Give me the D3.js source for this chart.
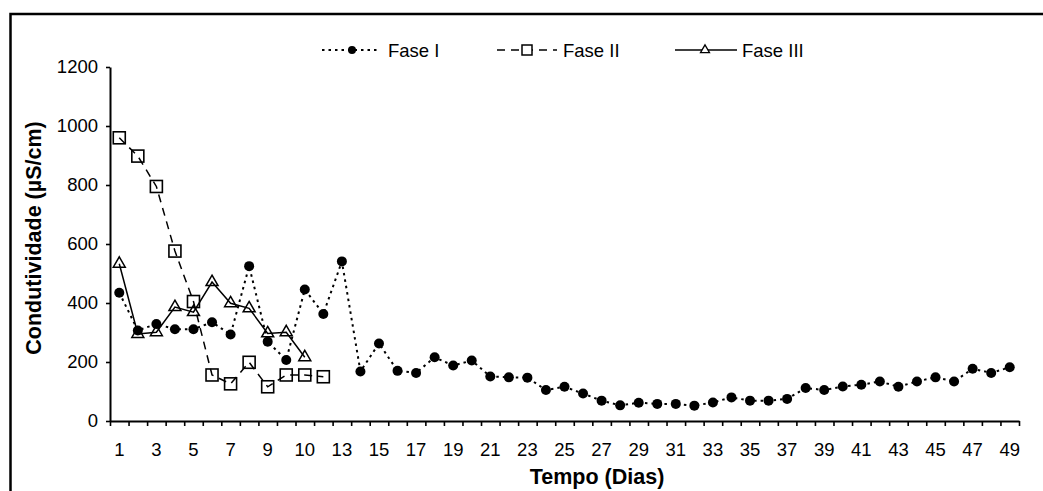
<!DOCTYPE html>
<html>
<head>
<meta charset="utf-8">
<script src="https://cdn.jsdelivr.net/npm/d3@7"></script>
<style>
  html, body { margin: 0; padding: 0; background: #fff; }
  svg { display: block; font-family: "Liberation Sans", Arial, sans-serif; }
</style>
</head>
<body>
<svg id="chart" width="1043" height="491"></svg>
<script>
// Day labels of the category axis (one per sampling point)
const dayLabels = ["1","2","3","4","5","6","7","8","9","10","10","12","13","14","15","16","17","18","19","20",
  "21","22","23","24","25","26","27","28","29","30","31","32","33","34","35","36","37","38","39","40",
  "41","42","43","44","45","46","47","48","49"];

// Conductivity (µS/cm) per phase
const faseI = [435, 307, 329, 311, 311, 335, 293, 525, 269, 207, 446, 363, 541, 168, 263, 170, 163, 216, 188, 205,
  151, 148, 147, 105, 116, 93, 69, 53, 62, 58, 58, 52, 63, 80, 69, 69, 75, 112, 105, 117,
  123, 134, 116, 134, 148, 134, 177, 163, 182];
const faseII = [960, 898, 795, 576, 405, 156, 126, 199, 116, 156, 156, 150];
const faseIII = [533, 295, 301, 386, 369, 471, 399, 382, 297, 301, 216];

const yTicks = [0, 200, 400, 600, 800, 1000, 1200];

const svg = d3.select("#chart");
const FONT = "Liberation Sans, Arial, sans-serif";

// outer frame
svg.append("rect")
  .attr("x", 10.5).attr("y", 14).attr("width", 1200).attr("height", 700)
  .attr("fill", "none").attr("stroke", "#000").attr("stroke-width", 2.5);

const plotL = 110, plotR = 1019, plotT = 67, plotB = 421;

const x = d3.scaleBand().domain(d3.range(dayLabels.length)).range([plotL, plotR]).padding(0);
const xEdge = d3.scaleLinear().domain([0, dayLabels.length]).range([plotL, plotR]);
const y = d3.scaleLinear().domain([0, 1200]).range([plotB, plotT]);
const cx = i => x(i) + x.bandwidth() / 2;

// y axis
const yAxis = svg.append("g").attr("transform", `translate(${plotL},0)`)
  .call(d3.axisLeft(y).tickValues(yTicks).tickFormat(d3.format("d"))
    .tickSize(4).tickSizeOuter(0).tickPadding(8));
yAxis.attr("font-family", FONT).attr("font-size", 18.5);
yAxis.selectAll("text").attr("fill", "#000");

// x axis: ticks on category boundaries, labels on every other category
const xAxis = svg.append("g").attr("transform", `translate(0,${plotB})`)
  .call(d3.axisBottom(xEdge).tickValues(d3.range(dayLabels.length + 1)).tickSize(5).tickSizeOuter(0).tickFormat(""));
[yAxis, xAxis].forEach(g => {
  g.select(".domain").attr("stroke", "#000").attr("stroke-width", 2);
  g.selectAll(".tick line").attr("stroke", "#000").attr("stroke-width", 1.6);
});
svg.append("g").attr("font-family", FONT).selectAll("text")
  .data(dayLabels.map((d, i) => ({ d, i })).filter(o => o.i % 2 === 0))
  .join("text")
  .attr("x", o => cx(o.i)).attr("y", plotB + 35)
  .attr("text-anchor", "middle").attr("font-size", 18.5).attr("fill", "#000")
  .text(o => o.d);

// axis titles
svg.append("text")
  .attr("x", 597).attr("y", 484).attr("font-family", FONT)
  .attr("text-anchor", "middle").attr("font-size", 21.5).attr("font-weight", "bold")
  .text("Tempo (Dias)");
svg.append("text")
  .attr("transform", "translate(41,238) rotate(-90)").attr("font-family", FONT)
  .attr("text-anchor", "middle").attr("font-size", 21.5).attr("font-weight", "bold")
  .text("Condutividade (µS/cm)");

const line = d3.line().x((d, i) => cx(i)).y(d => y(d));

// Fase I – dotted line with filled circles
svg.append("path").datum(faseI).attr("d", line)
  .attr("fill", "none").attr("stroke", "#000").attr("stroke-width", 2).attr("stroke-dasharray", "2.5,4");
// Fase II – dashed line with open squares
svg.append("path").datum(faseII).attr("d", line)
  .attr("fill", "none").attr("stroke", "#000").attr("stroke-width", 1.5).attr("stroke-dasharray", "8,6");
// Fase III – solid line with open triangles
svg.append("path").datum(faseIII).attr("d", line)
  .attr("fill", "none").attr("stroke", "#000").attr("stroke-width", 1.5);

const tri = d3.symbol().type(d3.symbolTriangle).size(62);

svg.append("g").selectAll("circle").data(faseI).join("circle")
  .attr("cx", (d, i) => cx(i)).attr("cy", d => y(d)).attr("r", 5).attr("fill", "#000");
svg.append("g").selectAll("rect").data(faseII).join("rect")
  .attr("x", (d, i) => cx(i) - 6).attr("y", d => y(d) - 6).attr("width", 12).attr("height", 12)
  .attr("fill", "none").attr("stroke", "#000").attr("stroke-width", 1.6);
svg.append("g").selectAll("path").data(faseIII).join("path")
  .attr("d", tri).attr("transform", (d, i) => `translate(${cx(i)},${y(d)})`)
  .attr("fill", "none").attr("stroke", "#000").attr("stroke-width", 1.5);

// legend
const legY = 50;
const leg = svg.append("g").attr("font-family", FONT);
leg.append("line").attr("x1", 322).attr("x2", 380).attr("y1", legY).attr("y2", legY)
  .attr("stroke", "#000").attr("stroke-width", 2).attr("stroke-dasharray", "2.5,4");
leg.append("circle").attr("cx", 352).attr("cy", legY).attr("r", 4).attr("fill", "#000");
leg.append("text").attr("x", 388).attr("y", legY + 7).attr("font-size", 18.5).text("Fase I");

leg.append("line").attr("x1", 497).attr("x2", 557).attr("y1", legY).attr("y2", legY)
  .attr("stroke", "#000").attr("stroke-width", 1.5).attr("stroke-dasharray", "8,6");
leg.append("rect").attr("x", 522).attr("y", legY - 5).attr("width", 10).attr("height", 10)
  .attr("fill", "#fff").attr("stroke", "#000").attr("stroke-width", 1.5);
leg.append("text").attr("x", 563).attr("y", legY + 7).attr("font-size", 18.5).text("Fase II");

leg.append("line").attr("x1", 675).attr("x2", 737).attr("y1", legY).attr("y2", legY)
  .attr("stroke", "#000").attr("stroke-width", 1.5);
leg.append("path").attr("d", d3.symbol().type(d3.symbolTriangle).size(35))
  .attr("transform", `translate(705,${legY})`).attr("fill", "#fff").attr("stroke", "#000").attr("stroke-width", 1.3);
leg.append("text").attr("x", 742).attr("y", legY + 7).attr("font-size", 18.5).text("Fase III");
</script>
</body>
</html>
